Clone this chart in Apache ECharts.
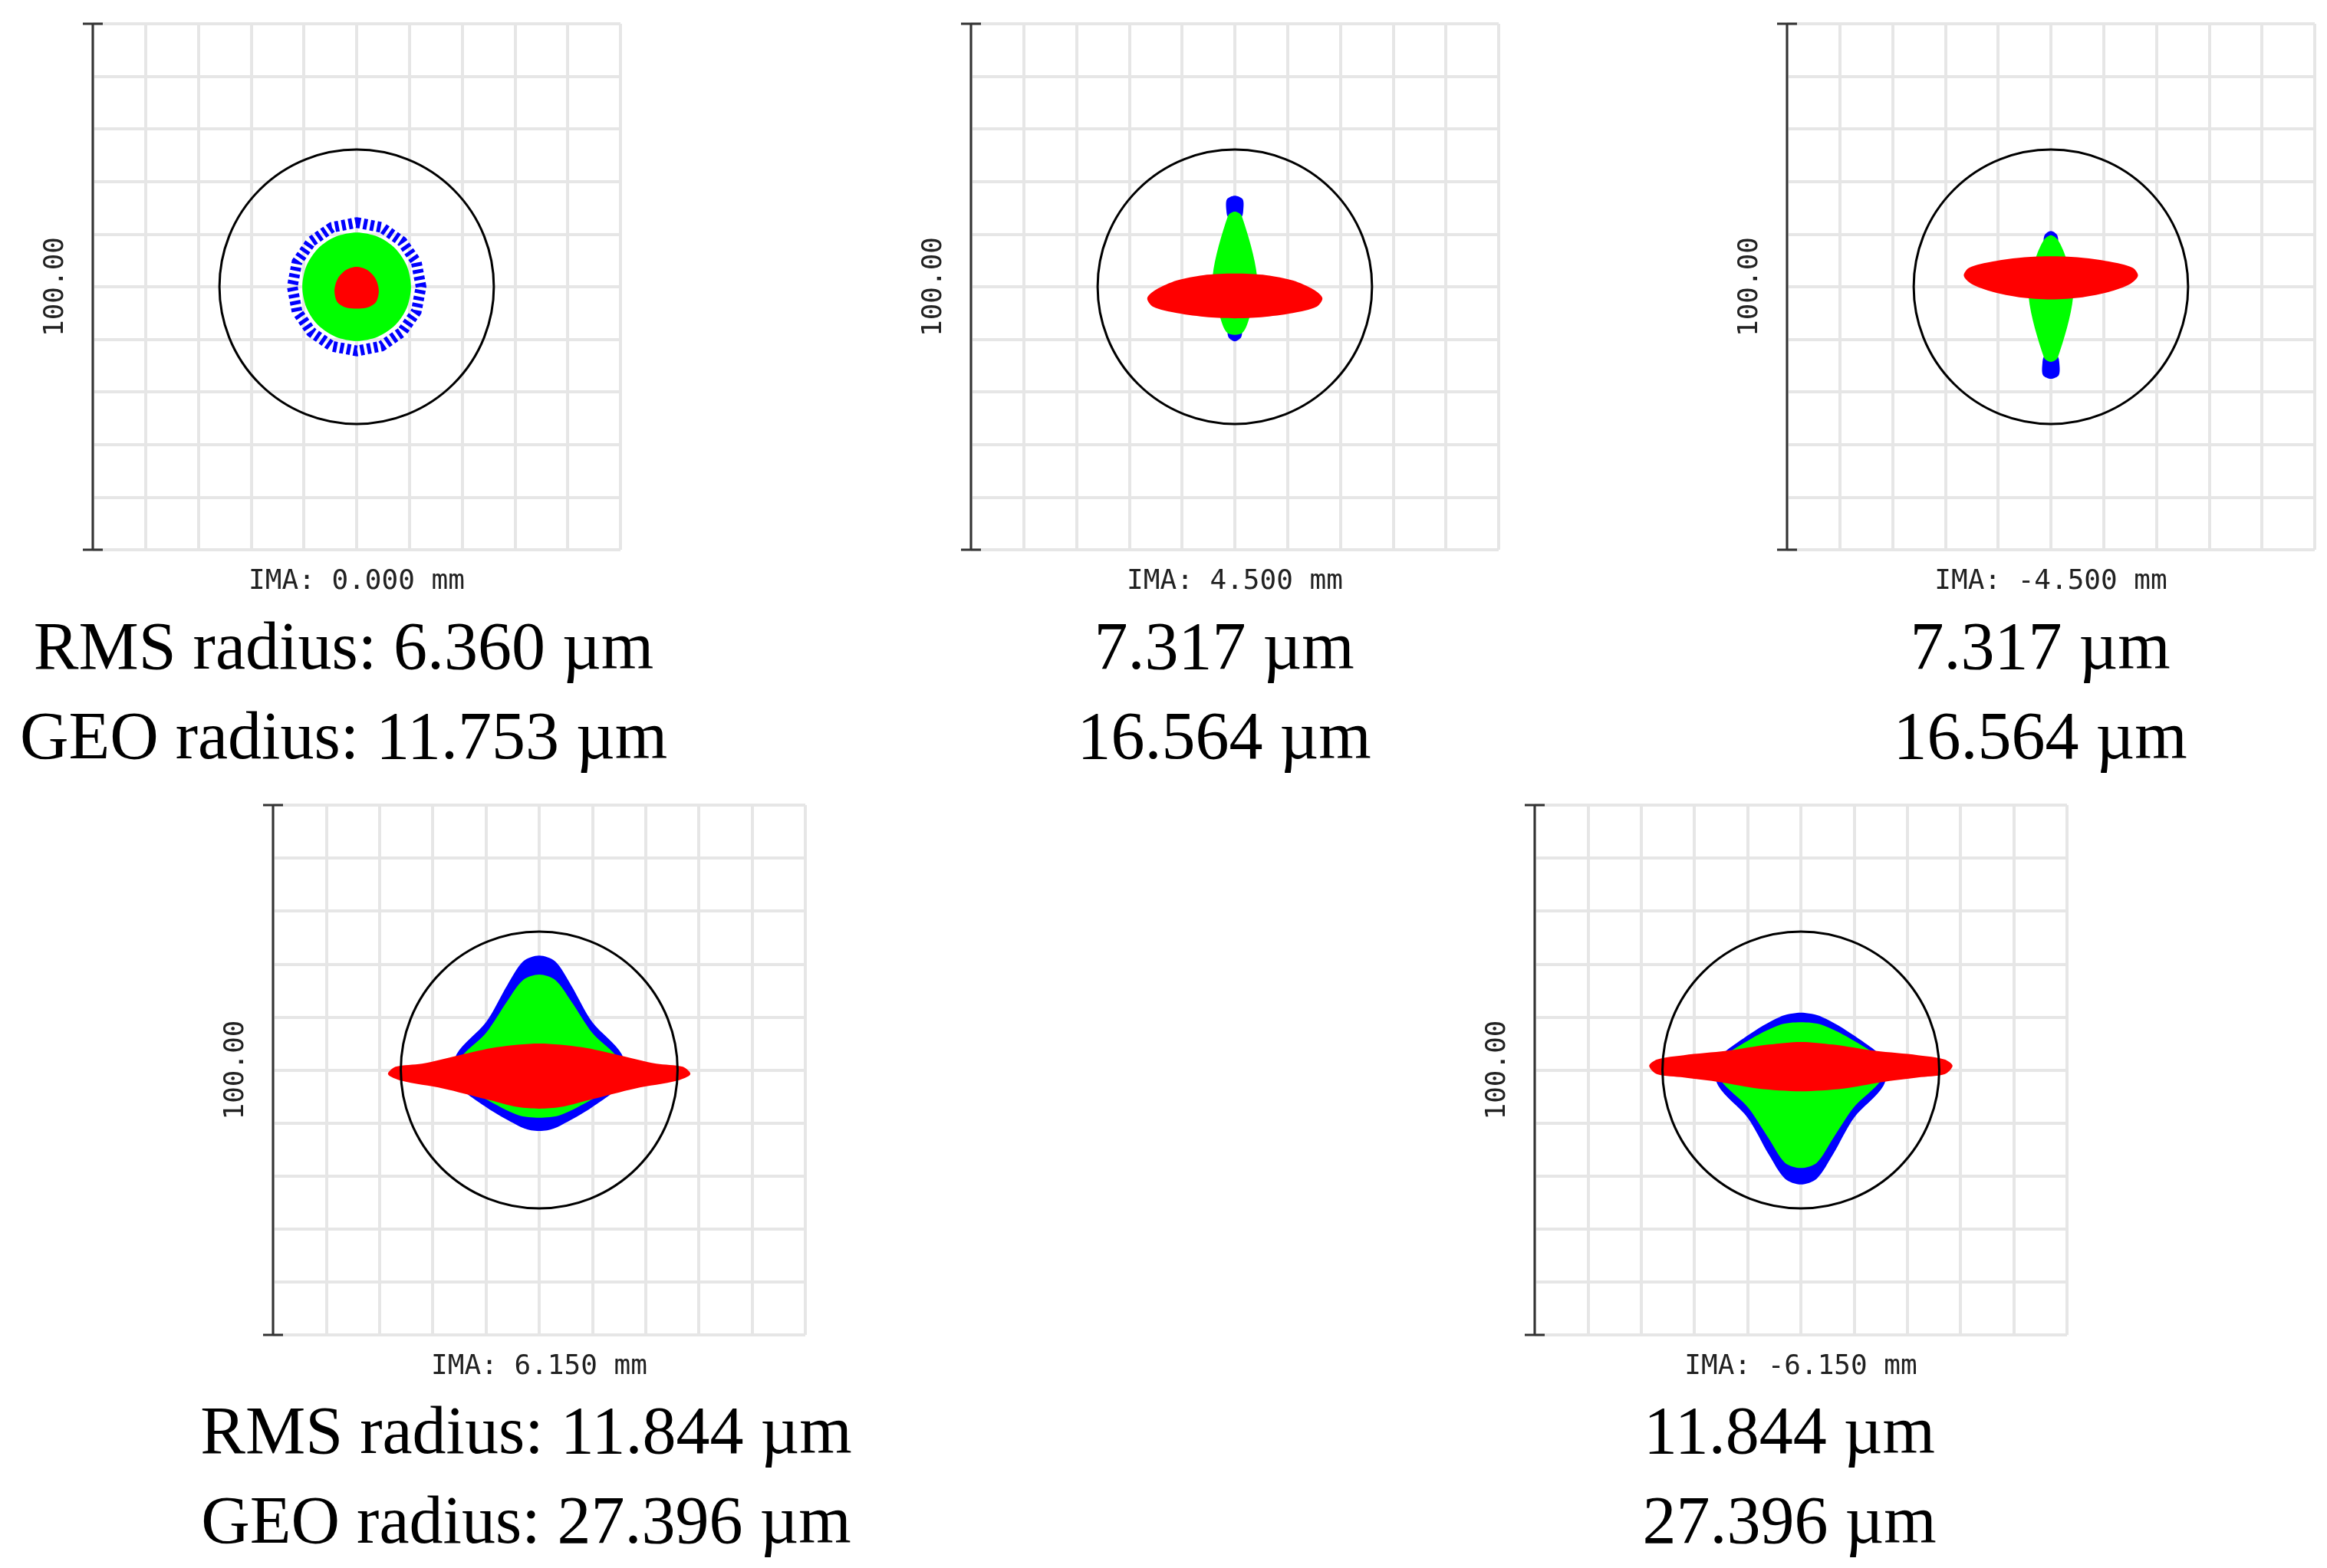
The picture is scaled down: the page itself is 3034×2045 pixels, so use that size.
<!DOCTYPE html>
<html><head><meta charset="utf-8">
<script src="https://cdn.jsdelivr.net/npm/echarts@6/dist/echarts.min.js"></script>
<style>html,body{margin:0;background:#fff}#c{width:3034px;height:2045px}</style>
</head><body><div id="c"></div>
<script>
// Spot outlines (µm)
const blue1=[[0,12.2],[4.7,11.3],[8.6,8.6],[11.3,4.7],[12.2,0],[11.3,-4.7],[8.6,-8.6],[4.7,-11.3],[0,-12.2],[-4.7,-11.3],[-8.6,-8.6],[-11.3,-4.7],[-12.2,0],[-11.3,4.7],[-8.6,8.6],[-4.7,11.3]];
const green1=[[0,10.3],[4,9.5],[7.3,7.3],[9.5,4],[10.3,0],[9.5,-4],[7.3,-7.3],[4,-9.5],[0,-10.3],[-4,-9.5],[-7.3,-7.3],[-9.5,-4],[-10.3,0],[-9.5,4],[-7.3,7.3],[-4,9.5]];
const red1=[[0,3.8],[2,3.2],[3.6,1.5],[4.2,-0.8],[3.6,-3],[1.8,-4],[-1.8,-4],[-3.6,-3],[-4.2,-0.8],[-3.6,1.5],[-2,3.2]];

const blue2a=[[0,17.3],[1.5,16.6],[1.6,14.5],[1.2,13.2],[-1.2,13.2],[-1.6,14.5],[-1.5,16.6]];
const blue2b=[[1.2,-8],[1.2,-9.6],[0,-10.4],[-1.2,-9.6],[-1.2,-8]];
const green2=[[0,14.3],[1.3,13.5],[4.2,2],[3,-5],[1.4,-8.8],[-1.4,-8.8],[-3,-5],[-4.2,2],[-1.3,13.5]];
const red2=[[0,2.5],[6,2.2],[11,1.2],[15,-0.6],[16.6,-2.2],[15.5,-3.8],[11,-5],[5,-5.8],[0,-6],[-5,-5.8],[-11,-5],[-15.5,-3.8],[-16.6,-2.2],[-15,-0.6],[-11,1.2],[-6,2.2]];

const blue3a=[[0,10.6],[1.2,9.8],[1.2,8.2],[-1.2,8.2],[-1.2,9.8]];
const blue3b=[[1.2,-13.2],[1.6,-14.5],[1.5,-16.8],[0,-17.5],[-1.5,-16.8],[-1.6,-14.5],[-1.2,-13.2]];
const green3=[[0,9.8],[1.4,8.8],[3,5],[4.2,-2],[1.3,-13.5],[0,-14.3],[-1.3,-13.5],[-4.2,-2],[-3,5],[-1.4,8.8]];
const red3=[[0,5.8],[5,5.6],[11,4.8],[15.5,3.6],[16.5,2.1],[15,0.5],[11,-1],[6,-2],[0,-2.4],[-6,-2],[-11,-1],[-15,0.5],[-16.5,2.1],[-15.5,3.6],[-11,4.8],[-5,5.6]];

const blue4=[[0,21.6],[3,20.5],[6,16],[10,9],[15.5,3],[16,-2],[10,-7],[4,-10.5],[1.5,-11.4],[-1.5,-11.4],[-4,-10.5],[-10,-7],[-16,-2],[-15.5,3],[-10,9],[-6,16],[-3,20.5]];
const green4=[[0,18],[3,17],[6,13],[10,7],[15,2],[15.5,-2],[10,-5.5],[4,-8.5],[0,-9],[-4,-8.5],[-10,-5.5],[-15.5,-2],[-15,2],[-10,7],[-6,13],[-3,17]];
const red4=[[0,5],[8,4.3],[15,2.8],[22,1.2],[27,0.6],[28.4,-0.8],[26,-2],[18,-3.5],[10,-5.5],[4,-7],[0,-7.3],[-4,-7],[-10,-5.5],[-18,-3.5],[-26,-2],[-28.4,-0.8],[-27,0.6],[-22,1.2],[-15,2.8],[-8,4.3]];

const blue5=[[0,10.8],[4,10],[10,6.5],[16,1.5],[15.5,-3],[10,-9],[6,-16],[3,-20.5],[0,-21.6],[-3,-20.5],[-6,-16],[-10,-9],[-15.5,-3],[-16,1.5],[-10,6.5],[-4,10]];
const green5=[[0,9],[4,8.5],[10,5.5],[15.5,1.5],[15,-2],[10,-7],[6,-13],[3,-17.5],[0,-18.5],[-3,-17.5],[-6,-13],[-10,-7],[-15,-2],[-15.5,1.5],[-10,5.5],[-4,8.5]];
const red5=[[0,5.3],[6,4.8],[14,3.6],[22,2.8],[27,2],[28.5,0.8],[27,-0.8],[22,-1.4],[15,-2.3],[8,-3.5],[0,-4],[-8,-3.5],[-15,-2.3],[-22,-1.4],[-27,-0.8],[-28.5,0.8],[-27,2],[-22,2.8],[-14,3.6],[-6,4.8]];

const airyRadius=26;
const imaLabels=['IMA: 0.000 mm','IMA: 4.500 mm','IMA: -4.500 mm','IMA: 6.150 mm','IMA: -6.150 mm'];
const rmsLabels=['RMS radius: 6.360 µm','7.317 µm','7.317 µm','RMS radius: 11.844 µm','11.844 µm'];
const geoLabels=['GEO radius: 11.753 µm','16.564 µm','16.564 µm','GEO radius: 27.396 µm','27.396 µm'];
const scaleLabel='100.00';

const panels=[
 {shapes:[['blue',blue1,'ring'],['green',green1],['red',red1]]},
 {shapes:[['blue',blue2a],['blue',blue2b],['green',green2],['red',red2]]},
 {shapes:[['blue',blue3a],['blue',blue3b],['green',green3],['red',red3]]},
 {shapes:[['blue',blue4],['green',green4],['red',red4]]},
 {shapes:[['blue',blue5],['green',green5],['red',red5]]}
];
const cols={blue:'#0000ff',green:'#00ff00',red:'#ff0000'};
const boxes=[[121,31,688,686],[1266,31,688,686],[2330,31,688,686],[356,1050,694,691],[2001,1050,694,691]];
const textPos=[[443,850,967],[1591,850,967],[2655,850,967],[681,1873,1990],[2328,1873,1990]];

const grid=[],xAxis=[],yAxis=[],series=[],title=[];
boxes.forEach((b,i)=>{
 grid.push({left:b[0],top:b[1],width:b[2],height:b[3]});
 xAxis.push({gridIndex:i,type:'value',min:-50,max:50,interval:10,
  axisLine:{show:false},axisTick:{show:false},axisLabel:{show:false},
  splitLine:{show:true,lineStyle:{color:'#e6e6e6',width:4}},
  name:imaLabels[i],nameLocation:'middle',nameGap:24,
  nameTextStyle:{fontFamily:'DejaVu Sans Mono',fontSize:36,color:'#222'}});
 yAxis.push({gridIndex:i,type:'value',min:-50,max:50,interval:10,
  axisLine:{show:false},axisTick:{show:false},axisLabel:{show:false},
  splitLine:{show:true,lineStyle:{color:'#e6e6e6',width:4}},
  name:scaleLabel,nameLocation:'middle',nameGap:30,nameRotate:90,
  nameTextStyle:{fontFamily:'DejaVu Sans Mono',fontSize:36,color:'#222'}});
 const p=panels[i];
 series.push({type:'custom',xAxisIndex:i,yAxisIndex:i,data:[[0,0]],silent:true,clip:false,
  renderItem:(params,api)=>{
   const c=api.coord([0,0]);const s=api.size([airyRadius,airyRadius]);
   const ch=[];
   p.shapes.forEach(sh=>{
    const pts=sh[1].map(q=>api.coord(q));
    if(sh[2]==='ring') ch.push({type:'polygon',shape:{points:pts},style:{fill:null,stroke:cols[sh[0]],lineWidth:14,lineDash:[5,4]}});
    else ch.push({type:'polygon',shape:{points:pts,smooth:0.3},style:{fill:cols[sh[0]]}});
   });
   ch.push({type:'circle',shape:{cx:c[0],cy:c[1],r:s[0]},style:{fill:null,stroke:'#000',lineWidth:3}});
   const top=api.coord([-50,50]),bot=api.coord([-50,-50]);
   const st={stroke:'#333',lineWidth:3};
   ch.push({type:'line',shape:{x1:top[0],y1:top[1],x2:bot[0],y2:bot[1]},style:st});
   ch.push({type:'line',shape:{x1:top[0]-13,y1:top[1],x2:top[0]+13,y2:top[1]},style:st});
   ch.push({type:'line',shape:{x1:bot[0]-13,y1:bot[1],x2:bot[0]+13,y2:bot[1]},style:st});
   return {type:'group',children:ch};
  }});
 const t=textPos[i];
 title.push({text:rmsLabels[i],left:t[0],top:t[1]-50,textAlign:'center',textStyle:{fontFamily:'Liberation Serif',fontSize:88,fontWeight:'normal',color:'#000'}});
 title.push({text:geoLabels[i],left:t[0],top:t[2]-50,textAlign:'center',textStyle:{fontFamily:'Liberation Serif',fontSize:88,fontWeight:'normal',color:'#000'}});
});
const chart=echarts.init(document.getElementById('c'));
chart.setOption({animation:false,backgroundColor:'#fff',grid,xAxis,yAxis,series,title});
</script></body></html>
